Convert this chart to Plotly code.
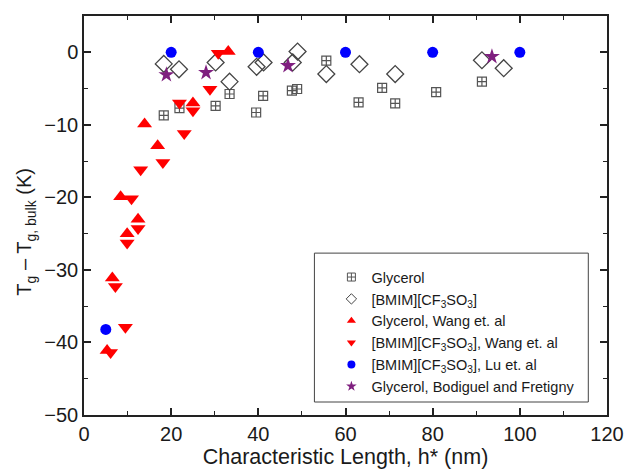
import plotly.graph_objects as go

# Glycerol (this work)
gly_x = [18.3, 21.9, 30.2, 33.4, 39.5, 41.1, 47.7, 48.9, 55.6, 63.0, 68.4, 71.4, 80.8, 91.3]
gly_y = [-8.7, -7.7, -7.4, -5.75, -8.3, -6.0, -5.3, -5.06, -1.15, -6.9, -4.9, -7.05, -5.5, -4.05]

# [BMIM][CF3SO3] (this work)
bm_x = [18.3, 21.8, 30.2, 33.4, 39.6, 41.2, 47.9, 49.0, 55.6, 63.2, 71.4, 91.3, 96.3]
bm_y = [-1.6, -2.35, -1.4, -4.05, -2.0, -1.4, -1.4, 0.1, -3.0, -1.65, -3.0, -1.1, -2.2]

# Glycerol, Wang et al
gw_x = [33.1, 25.0, 13.9, 16.9, 8.4, 12.4, 9.9, 6.5, 5.3]
gw_y = [0.1, -7.0, -9.9, -12.9, -19.9, -23.0, -25.0, -31.1, -41.1]

# [BMIM][CF3SO3], Wang et al
bw_x = [30.8, 28.9, 21.9, 25.0, 23.0, 18.1, 13.0, 10.9, 12.4, 9.9, 7.2, 9.5, 6.1]
bw_y = [-0.15, -5.1, -7.0, -8.05, -11.2, -15.2, -16.2, -20.2, -24.3, -26.3, -32.3, -37.9, -41.4]

# [BMIM][CF3SO3], Lu et al
bl_x = [5, 20, 40, 60, 80, 100]
bl_y = [-38.2, 0, 0, 0, 0, 0]

# Glycerol, Bodiguel and Fretigny
gb_x = [18.9, 28.0, 46.8, 93.6]
gb_y = [-3.1, -2.8, -1.85, -0.6]

names = [
    "Glycerol",
    "[BMIM][CF<sub>3</sub>SO<sub>3</sub>]",
    "Glycerol, Wang et. al",
    "[BMIM][CF<sub>3</sub>SO<sub>3</sub>], Wang et. al",
    "[BMIM][CF<sub>3</sub>SO<sub>3</sub>], Lu et. al",
    "Glycerol, Bodiguel and Fretigny",
]

FONT = "Arial, Liberation Sans, sans-serif"
TXT = "#1a1a1a"

series = [
    (gly_x, gly_y, dict(symbol="square-cross-open", size=9, color="#555555", line=dict(width=1.2, color="#555555"))),
    (bm_x, bm_y, dict(symbol="diamond-open", size=13, color="#444444", line=dict(width=1.3, color="#444444"))),
    (gw_x, gw_y, dict(symbol="triangle-up", size=13, color="#ff0000", line=dict(width=0))),
    (bw_x, bw_y, dict(symbol="triangle-down", size=13, color="#ff0000", line=dict(width=0))),
    (bl_x, bl_y, dict(symbol="circle", size=11, color="#0000ff", line=dict(width=0))),
    (gb_x, gb_y, dict(symbol="star", size=12, color="#7f1f7f", line=dict(width=0))),
]

fig = go.Figure()
for (xs, ys, mk), nm in zip(series, names):
    fig.add_trace(go.Scatter(x=xs, y=ys, mode="markers", name=nm, marker=mk, showlegend=False))
# legend entries with smaller symbols (no data drawn)
for (xs, ys, mk), nm in zip(series, names):
    lm = dict(mk)
    lm["size"] = 8
    if "line" in lm and lm["line"].get("width", 0) > 0:
        lm["line"] = dict(width=1, color=mk["color"])
    fig.add_trace(go.Scatter(x=[None], y=[None], mode="markers", name=nm, marker=lm, showlegend=True))

L, R, T, B = 83.5, 606.7, 15.7, 415.0   # pixel coords of the frame
W, H = 625, 470
pw, ph = R - L, B - T

def px2paper(xp, yp):
    return (xp - L) / pw, (B - yp) / ph

x0, y0 = px2paper(314, 402)
x1, y1 = px2paper(588, 253)
lx, ly = px2paper(331, 261)

fig.update_layout(
    width=W, height=H,
    margin=dict(l=L, r=W - R, t=T, b=H - B),
    paper_bgcolor="white", plot_bgcolor="white",
    font=dict(family=FONT, size=20, color=TXT),
    legend=dict(x=lx, y=ly, xanchor="left", yanchor="top",
                borderwidth=0, bgcolor="rgba(0,0,0,0)",
                font=dict(size=14.5, family=FONT, color=TXT),
                itemsizing="trace", tracegroupgap=0),
    showlegend=True,
    shapes=[dict(type="rect", xref="paper", yref="paper", x0=x0, x1=x1, y0=y0, y1=y1,
                 line=dict(color="#444444", width=1), fillcolor="rgba(0,0,0,0)", layer="above")],
    annotations=[dict(text="T<sub>g</sub> – T<sub>g, bulk</sub> (K)", xref="paper", yref="paper",
                      x=(25 - L) / pw, y=(B - 232) / ph, xanchor="center", yanchor="middle",
                      textangle=-90, showarrow=False, font=dict(size=20, family=FONT, color=TXT))],
)
fig.update_xaxes(
    range=[0, 120], dtick=20, tick0=0, automargin=False,
    showgrid=False, zeroline=False,
    showline=True, linecolor="#222222", linewidth=1.5, mirror="ticks",
    ticks="inside", ticklen=7, tickwidth=1.5, tickcolor="#222222",
    minor=dict(ticks="inside", dtick=10, ticklen=4, tickwidth=1.2, tickcolor="#222222"),
    title=dict(text="Characteristic Length, h* (nm)", font=dict(size=21.5), standoff=0),
    tickfont=dict(size=20),
)
fig.update_yaxes(
    range=[-50, 5], dtick=10, tick0=0, automargin=False,
    showgrid=False, zeroline=False,
    showline=True, linecolor="#222222", linewidth=1.5, mirror="ticks",
    ticks="inside", ticklen=7, tickwidth=1.5, tickcolor="#222222",
    minor=dict(ticks="inside", dtick=5, ticklen=4, tickwidth=1.2, tickcolor="#222222"),
    tickfont=dict(size=20),
)

fig.write_html(
    "out.html",
    config={"displayModeBar": False},
    post_script="document.body.style.margin='0';document.body.style.overflow='hidden';",
)
